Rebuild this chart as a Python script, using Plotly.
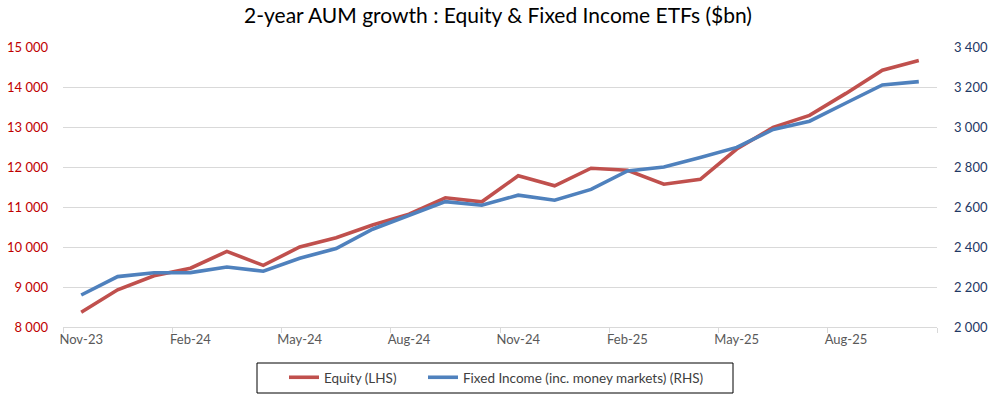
import plotly.graph_objects as go

months = ["Nov-23", "Dec-23", "Jan-24", "Feb-24", "Mar-24", "Apr-24", "May-24", "Jun-24",
          "Jul-24", "Aug-24", "Sep-24", "Oct-24", "Nov-24", "Dec-24", "Jan-25", "Feb-25",
          "Mar-25", "Apr-25", "May-25", "Jun-25", "Jul-25", "Aug-25", "Sep-25", "Oct-25"]

equity = [8370, 8930, 9280, 9470, 9890, 9540, 10000, 10230, 10550, 10820, 11230, 11130,
          11780, 11530, 11970, 11920, 11570, 11690, 12450, 12990, 13290, 13840, 14420, 14660]

fixed_income = [2160, 2252, 2271, 2272, 2300, 2279, 2344, 2392, 2489, 2558, 2627, 2609,
                2659, 2634, 2688, 2780, 2800, 2848, 2898, 2988, 3029, 3120, 3210, 3227]

left_ticks = [8000, 9000, 10000, 11000, 12000, 13000, 14000, 15000]
right_ticks = [2000, 2200, 2400, 2600, 2800, 3000, 3200, 3400]

xpos = list(range(len(months)))
label_idx = xpos[::3]
label_text = [months[i] for i in label_idx]
boundaries = [i - 0.5 for i in label_idx] + [len(months) - 0.5]

FONT = "Lato"
W, H = 996, 402
L, R, T, B = 63, 59, 47, 75
PW, PH = W - L - R, H - T - B


def px_x(px):
    return (px - L) / PW


def px_y(py):
    return (H - B - py) / PH


fig = go.Figure()
fig.add_trace(go.Scatter(x=xpos, y=equity, name="Equity (LHS)", mode="lines",
                         line=dict(color="#C0504D", width=3.6), yaxis="y",
                         legend="legend", showlegend=True))
fig.add_trace(go.Scatter(x=xpos, y=fixed_income, name="Fixed Income (inc. money markets) (RHS)",
                         mode="lines", line=dict(color="#4F81BD", width=3.6), yaxis="y2",
                         legend="legend2", showlegend=True))

legend_common = dict(orientation="h", xanchor="left", yanchor="top", visible=True,
                     bgcolor="rgba(0,0,0,0)", borderwidth=0,
                     font=dict(family=FONT, size=13.5, color="#404040"))

fig.update_layout(
    width=W, height=H,
    showlegend=True,
    margin=dict(l=L, r=R, t=T, b=B, autoexpand=False),
    paper_bgcolor="white", plot_bgcolor="white",
    separators=". ",
    font=dict(family=FONT, size=13, color="#595959"),
    title=dict(text="2-year AUM growth : Equity & Fixed Income ETFs ($bn)",
               x=0.5, xanchor="center", y=1 - 16 / H, yanchor="middle",
               font=dict(family=FONT, size=21, color="#000000")),
    xaxis=dict(range=[-0.5, len(months) - 0.5], tickmode="array", tickvals=label_idx,
               ticktext=label_text, ticks="", showgrid=False, zeroline=False,
               showline=True, linecolor="#D9D9D9", linewidth=1,
               tickfont=dict(size=13, color="#595959"),
               minor=dict(tickmode="array", tickvals=boundaries, ticks="outside",
                          ticklen=5, tickcolor="#D9D9D9", tickwidth=1, showgrid=False)),
    yaxis=dict(range=[8000, 15000], tickmode="array", tickvals=left_ticks,
               tickformat=",.0f", separatethousands=True,
               showgrid=True, gridcolor="#D9D9D9", gridwidth=1,
               zeroline=False, showline=False, ticks="", ticklabelstandoff=14,
               tickfont=dict(size=13, color="#C00000")),
    yaxis2=dict(range=[2000, 3400], tickmode="array", tickvals=right_ticks,
                tickformat=",.0f", separatethousands=True,
                overlaying="y", side="right", showgrid=False,
                zeroline=False, showline=False, ticks="", ticklabelstandoff=16,
                tickfont=dict(size=13, color="#1F3864")),
    legend=dict(x=px_x(284), y=px_y(362), **legend_common),
    legend2=dict(x=px_x(423), y=px_y(362), **legend_common),
    shapes=[dict(type="rect", xref="paper", yref="paper",
                 x0=px_x(257), x1=px_x(733), y0=px_y(393), y1=px_y(363),
                 line=dict(color="#000000", width=1), fillcolor="rgba(0,0,0,0)")],
)

fig.write_html("out.html",
               config={"displayModeBar": False},
               post_script="document.body.style.margin='0';document.body.style.overflow='hidden';")
